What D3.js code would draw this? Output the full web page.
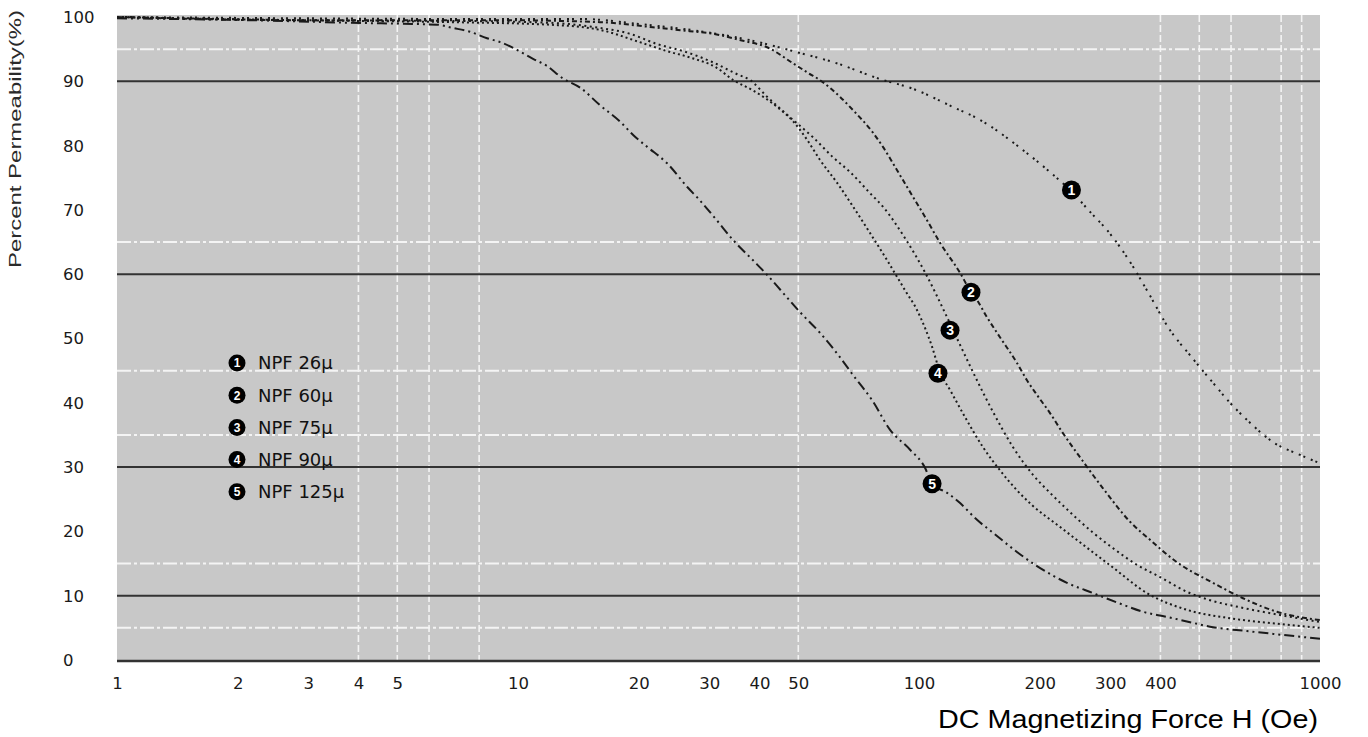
<!DOCTYPE html>
<html>
<head>
<meta charset="utf-8">
<script src="https://cdn.jsdelivr.net/npm/d3@7"></script>
<style>
  html, body { margin: 0; padding: 0; background: #ffffff; }
  svg { display: block; }
</style>
</head>
<body>
<svg id="chart" width="1368" height="737"></svg>
<script>
// ---------- data ----------
const seriesNames = ["NPF 26\u03bc", "NPF 60\u03bc", "NPF 75\u03bc", "NPF 90\u03bc", "NPF 125\u03bc"];

const npf26 = [[1,100],[2.86,99.8],[6.77,99.7],[14.3,99.7],[20.1,98.9],[28.4,97.8],[37.9,96.4],[50.5,94.4],[61.0,93.0],[81.3,90.2],[95.0,89.0],[121.6,86.0],[142,84.0],[181.7,79.3],[212,75.9],[240.7,72.8],[267,69.7],[294,66.9],[340,61.4],[372.5,57.2],[422.7,51.3],[474,47.4],[541,43.1],[596.6,40.0],[669,36.9],[763,33.9],[891.5,31.9],[1000,30.6]];

const npf60 = [[1,100],[2.86,99.5],[9.02,99.5],[16.0,99.2],[21.7,98.4],[26.8,97.8],[30.6,97.4],[36.4,96.3],[41.8,95.3],[48.5,92.8],[52.9,91.3],[56.6,90.2],[63.5,87.6],[68.5,85.5],[76.8,82.0],[81.3,79.8],[88.1,76.2],[93.3,73.6],[104.7,68.4],[112.8,64.9],[126.6,60.2],[134.0,57.5],[139.5,56.0],[147.8,53.3],[159.2,50.2],[175.5,46.2],[185.9,43.5],[197,41.2],[212.2,38.4],[227.3,35.5],[255,31.1],[287.6,26.7],[336,21.5],[376.7,18.7],[440,15.2],[541,12.0],[642.7,9.6],[781,7.5],[1000,6.2]];

const npf75 = [[1,100],[2.86,99.5],[6.77,99.4],[12.0,99.1],[16.0,98.3],[19.0,97.4],[22.2,95.8],[26.1,94.6],[30.5,93.0],[35.2,91.1],[37.9,90.2],[41.8,87.6],[48.5,84.0],[54.4,81.3],[61.0,78.2],[67.3,75.9],[75.5,72.6],[81.3,70.5],[92.3,65.6],[103.5,60.3],[117.5,53.3],[126.6,49.0],[139.5,43.5],[152.9,38.6],[171.6,33.1],[192.4,28.8],[212.2,26.0],[238,23.0],[271.6,19.8],[304.6,17.4],[349.6,14.8],[399,12.9],[466,10.6],[531.8,9.3],[631.5,8.2],[794.9,7.0],[1000,5.9]];

const npf90 = [[1,100],[2.86,99.5],[6.77,99.2],[12.0,98.8],[16.0,98.0],[20.1,96.1],[23.5,94.7],[27.2,93.6],[31.3,92.1],[34.4,90.2],[38.5,88.6],[44.3,86.0],[48.5,83.8],[52.6,80.9],[56.6,77.8],[62.5,74.2],[68.5,70.5],[75.5,66.4],[83.2,62.2],[92.3,57.5],[98.9,54.4],[107.8,48.7],[112.8,44.8],[119.5,42.0],[130.2,37.8],[144.4,33.1],[159.2,29.5],[175.5,26.4],[191.3,24.1],[224.7,20.7],[267,17.1],[302.9,14.5],[370.4,10.4],[466,7.8],[596.6,6.5],[794.9,5.6],[1000,5.0]];

const npf125 = [[1,99.8],[2.15,99.5],[3.81,99.1],[6.28,98.8],[6.88,98.3],[7.59,97.7],[8.37,96.7],[9.02,96.1],[9.94,94.9],[10.9,93.5],[11.8,92.4],[12.9,90.5],[14.3,89.0],[16.0,86.3],[18.0,83.7],[19.4,81.6],[21.0,79.8],[23.5,77.3],[26.4,73.6],[28.4,71.5],[31.3,68.4],[34.4,65.3],[38.5,62.2],[41.8,59.9],[45.8,57.1],[50.5,54.1],[56.6,50.9],[63.5,47.1],[68.5,44.3],[76.4,40.4],[84.7,35.8],[95.0,32.7],[103.5,29.9],[107.8,27.4],[117.5,26.0],[126.6,24.4],[139.5,21.8],[152.9,19.8],[175.5,16.8],[194.7,14.8],[214.6,13.2],[233.9,12.0],[271.6,10.4],[322.6,8.6],[361.9,7.5],[415.5,6.7],[479.6,5.8],[541,5.1],[657.6,4.5],[781,4.0],[1000,3.3]];

const markerPoints = [[240,73.1],[134.8,57.2],[119.5,51.3],[111.5,44.6],[107.8,27.4]];
const markerDigits = ["1","2","3","4","5"];

const xTicks = [1,2,3,4,5,10,20,30,40,50,100,200,300,400,1000];
const xTickLabels = ["1","2","3","4","5","10","20","30","40","50","100","200","300","400","1000"];
const yTicks = [0,10,20,30,40,50,60,70,80,90,100];
const darkGridY = [90,60,30,10];
const whiteGridY = [95,65,45,35,15,5];
const whiteGridX = [4,5,6,8,50,400,500,600,800,900];

const xTitle = "DC Magnetizing Force H (Oe)";
const yTitle = "Percent Permeability(%)";

// ---------- layout ----------
const plot = {left: 117, right: 1320, top: 17, bottom: 660};
const svg = d3.select("#chart");
const tickFont = "DejaVu Sans, Verdana, sans-serif";
const textFont = "Liberation Sans, Arial, sans-serif";

const x = d3.scaleLog().domain([1, 1000]).range([plot.left, plot.right]);
const y = d3.scaleLinear().domain([0, 100]).range([plot.bottom, plot.top]);

// background
svg.append("rect")
  .attr("x", plot.left).attr("y", plot.top - 2)
  .attr("width", plot.right - plot.left).attr("height", plot.bottom - plot.top + 2)
  .attr("fill", "#c8c8c8");

// white vertical grid
svg.append("g").selectAll("line").data(whiteGridX).join("line")
  .attr("x1", d => x(d)).attr("x2", d => x(d))
  .attr("y1", plot.top - 2).attr("y2", plot.bottom)
  .attr("stroke", "#f4f4f4").attr("stroke-width", 1.6)
  .attr("stroke-dasharray", "7,3");

// white horizontal grid (dash-dot)
svg.append("g").selectAll("line").data(whiteGridY).join("line")
  .attr("x1", plot.left).attr("x2", plot.right)
  .attr("y1", d => y(d)).attr("y2", d => y(d))
  .attr("stroke", "#f4f4f4").attr("stroke-width", 2)
  .attr("stroke-dasharray", "14,3,3,3");

// dark horizontal grid
svg.append("g").selectAll("line").data(darkGridY).join("line")
  .attr("x1", plot.left).attr("x2", plot.right)
  .attr("y1", d => y(d)).attr("y2", d => y(d))
  .attr("stroke", "#333333").attr("stroke-width", 2);

// bottom axis line
svg.append("line")
  .attr("x1", plot.left).attr("x2", plot.right)
  .attr("y1", y(0) + 1).attr("y2", y(0) + 1)
  .attr("stroke", "#333333").attr("stroke-width", 2.5);

// x tick labels
const xAxis = d3.axisBottom(x).tickValues(xTicks)
  .tickFormat((d, i) => xTickLabels[i]).tickSize(0).tickPadding(0);
const gx = svg.append("g").attr("transform", `translate(0, ${plot.bottom + 23})`).call(xAxis);
gx.select(".domain").remove();
gx.selectAll("text")
  .attr("font-family", tickFont)
  .attr("font-size", 16.5).attr("fill", "#1a1a1a").attr("dy", "0.36em");

// y tick labels
svg.append("g").selectAll("text").data(yTicks).join("text")
  .attr("x", 63).attr("y", d => y(d))
  .attr("dy", "0.36em")
  .attr("font-family", tickFont)
  .attr("font-size", 16.5).attr("fill", "#1a1a1a")
  .text(d => d);

// curves
const seriesData = [npf26, npf60, npf75, npf90, npf125];
const dashes = ["2,6,2,3", "5,3,2,3", "2,3.5", "2,3", "10,4,2,4,2,4"];
const line = d3.line().x(d => x(d[0])).y(d => y(d[1])).curve(d3.curveMonotoneX);
svg.append("g").selectAll("path").data(seriesData).join("path")
  .attr("d", line)
  .attr("fill", "none")
  .attr("stroke", "#1a1a1a")
  .attr("stroke-width", 2)
  .attr("stroke-dasharray", (d, i) => dashes[i]);

// markers on curves
const mk = svg.append("g").selectAll("g").data(markerPoints).join("g")
  .attr("transform", d => `translate(${x(d[0])},${y(d[1])})`);
mk.append("circle").attr("r", 9.5).attr("fill", "#000");
mk.append("text").text((d, i) => markerDigits[i])
  .attr("text-anchor", "middle").attr("dy", "0.36em")
  .attr("font-family", textFont)
  .attr("font-weight", "bold").attr("font-size", 14).attr("fill", "#fff");

// legend
const lg = svg.append("g").selectAll("g").data(seriesNames).join("g")
  .attr("transform", (d, i) => `translate(237, ${363 + i * 32.2})`);
lg.append("circle").attr("r", 8.5).attr("fill", "#000");
lg.append("text").text((d, i) => markerDigits[i])
  .attr("text-anchor", "middle").attr("dy", "0.36em")
  .attr("font-family", textFont)
  .attr("font-weight", "bold").attr("font-size", 12).attr("fill", "#fff");
lg.append("text").text(d => d)
  .attr("x", 21).attr("dy", "0.36em")
  .attr("font-family", tickFont)
  .attr("font-size", 18).attr("fill", "#111");

// axis titles
svg.append("text")
  .attr("x", 1318).attr("y", 728)
  .attr("text-anchor", "end")
  .attr("font-family", textFont)
  .attr("font-size", 25).attr("fill", "#000")
  .attr("textLength", 380).attr("lengthAdjust", "spacingAndGlyphs")
  .text(xTitle);

svg.append("text")
  .attr("transform", "translate(21, 139) rotate(-90)")
  .attr("text-anchor", "middle")
  .attr("font-family", textFont)
  .attr("font-size", 17).attr("fill", "#2a2a2a")
  .attr("textLength", 258).attr("lengthAdjust", "spacingAndGlyphs")
  .text(yTitle);
</script>
</body>
</html>
